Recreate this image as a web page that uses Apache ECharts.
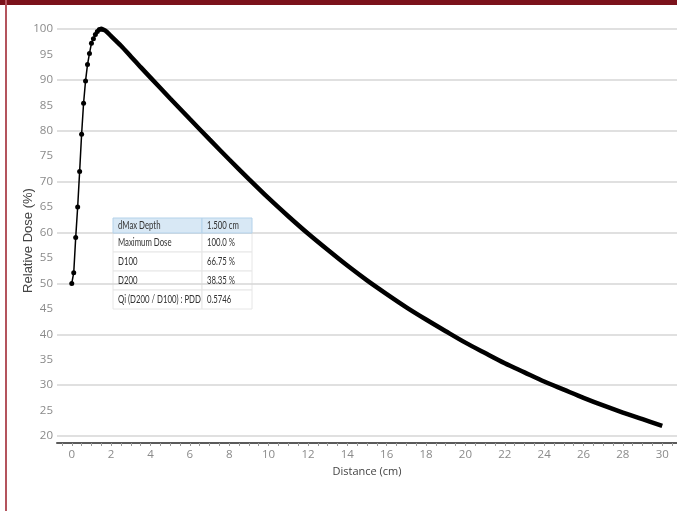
<!DOCTYPE html>
<html>
<head>
<meta charset="utf-8">
<script src="https://cdn.jsdelivr.net/npm/echarts@6/dist/echarts.min.js"></script>
<style>
  html, body { margin: 0; padding: 0; background: #fff; }
  .frame-top { position: absolute; left: 0; top: 0; width: 677px; height: 5px; background: #7b121b; }
  .frame-left { position: absolute; left: 5px; top: 0; width: 2px; height: 511px; background: #b4545d; }
  #chart { position: absolute; left: 0; top: 0; width: 677px; height: 511px; }
</style>
</head>
<body>
<div id="chart"></div>
<div class="frame-top"></div>
<div class="frame-left"></div>
<script>
// build-up region (dotted points)
const riseDepth = [0, 0.1, 0.2, 0.3, 0.4, 0.5, 0.6, 0.7, 0.8, 0.9, 1.0, 1.1, 1.2, 1.3, 1.4, 1.5];
const riseDose  = [50.0, 52.1, 59.0, 65.0, 72.0, 79.3, 85.4, 89.8, 93.0, 95.2, 97.2, 98.1, 98.9, 99.5, 99.9, 100.0];
// fall-off region (dense measurement, drawn as a thick line)
const fallDepth = [1.5, 1.7, 2, 2.5, 3, 3.5, 4, 5, 6, 7, 8, 9, 10, 11, 12, 13, 14, 15, 16, 17, 18, 19, 20,
                   21, 22, 23, 24, 25, 26, 27, 28, 29, 30];
const fallDose  = [100.0, 99.7, 98.6, 96.7, 94.6, 92.5, 90.45, 86.35, 82.3, 78.3, 74.35, 70.5, 66.75, 63.2, 59.8,
                   56.6, 53.5, 50.6, 47.9, 45.3, 42.9, 40.6, 38.35, 36.3, 34.3, 32.5, 30.7, 29.1, 27.5, 26.0,
                   24.6, 23.3, 22.0];
const xLabels = [0, 2, 4, 6, 8, 10, 12, 14, 16, 18, 20, 22, 24, 26, 28, 30];
const xTicks = [];
for (let v = -0.5; v <= 30.5; v += 0.5) xTicks.push(v);
const yLabels = [20, 25, 30, 35, 40, 45, 50, 55, 60, 65, 70, 75, 80, 85, 90, 95, 100];
const tableRows = [
  ['dMax Depth', '1.500 cm'],
  ['Maximum Dose', '100.0 %'],
  ['D100', '66.75 %'],
  ['D200', '38.35 %'],
  ['Qi (D200 / D100) : PDD', '0.5746']
];

const pairs = (xs, ys) => xs.map((x, i) => [x, ys[i]]);

// info table drawn as graphic elements (cells first, text on top)
const tblX = 113, tblY = 218, headH = 15, rowH = 19, col1W = 89, col2W = 50;
const cells = [], labels = [];
tableRows.forEach((row, i) => {
  const head = i === 0;
  const y = head ? tblY : tblY + headH + (i - 1) * rowH;
  const h = head ? headH : rowH;
  [[tblX, col1W, row[0]], [tblX + col1W, col2W, row[1]]].forEach(([x, w, txt]) => {
    cells.push({
      type: 'rect', z: head ? 1 : 0,
      shape: { x: x, y: y, width: w, height: h },
      style: { fill: head ? '#d8e8f5' : '#fff', stroke: head ? '#b4d2ea' : '#e6e6e6', lineWidth: 1 }
    });
    labels.push({
      type: 'text', z: 2, x: x + 5, y: y + h / 2 + 0.5, scaleX: 0.74,
      style: { text: txt, fill: '#333', font: '10.5px Lato', verticalAlign: 'middle' }
    });
  });
});

const chart = echarts.init(document.getElementById('chart'), null, { renderer: 'canvas' });
chart.setOption({
  animation: false,
  backgroundColor: '#fff',
  grid: { left: 57, right: 0, top: 29, bottom: 75, containLabel: false },
  xAxis: {
    type: 'value',
    min: -0.75,
    max: 30.75,
    offset: 7,
    name: 'Distance (cm)',
    nameLocation: 'middle',
    nameGap: 21,
    nameTextStyle: { color: '#444', fontSize: 11, fontFamily: 'Open Sans' },
    axisLine: { lineStyle: { color: '#5a5a5a', width: 2 } },
    axisTick: { show: true, customValues: xTicks, length: 3, lineStyle: { color: '#999', width: 1 } },
    axisLabel: { customValues: xLabels, color: '#8a8a8a', fontSize: 11.5, fontFamily: 'Open Sans', margin: 6 },
    splitLine: { show: false }
  },
  yAxis: {
    type: 'value',
    min: 20,
    max: 100,
    interval: 10,
    name: 'Relative Dose (%)',
    nameLocation: 'middle',
    nameGap: 22,
    nameMoveOverlap: false,
    nameTextStyle: { color: '#444', fontSize: 13, fontFamily: 'Liberation Sans', padding: [0, 16, 0, 0] },
    axisLine: { show: false },
    axisTick: { show: false },
    axisLabel: { customValues: yLabels, color: '#8a8a8a', fontSize: 11.5, fontFamily: 'Open Sans', margin: 4 },
    splitLine: { show: true, lineStyle: { color: '#d6d6d6', width: 1.5 } }
  },
  series: [
    {
      type: 'line',
      data: pairs(riseDepth, riseDose),
      clip: false,
      symbol: 'circle',
      symbolSize: 5,
      lineStyle: { color: '#000', width: 1.5 },
      itemStyle: { color: '#000' }
    },
    {
      type: 'line',
      data: pairs(fallDepth, fallDose),
      clip: false,
      smooth: 0.3,
      showSymbol: false,
      lineStyle: { color: '#000', width: 4.5 }
    }
  ],
  graphic: [{ type: 'group', silent: true, children: cells.concat(labels) }]
});
</script>
</body>
</html>
